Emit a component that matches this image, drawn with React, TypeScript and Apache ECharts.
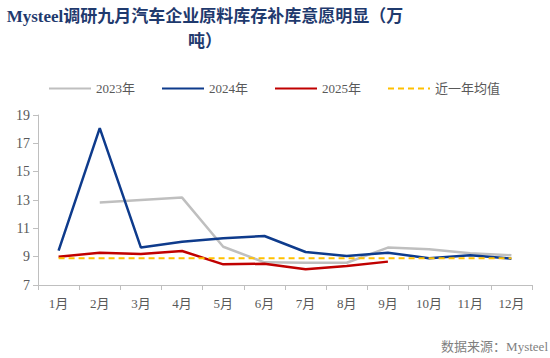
import React, { useEffect, useRef } from "react";
import * as echarts from "echarts";

const titleText = "Mysteel调研九月汽车企业原料库存补库意愿明显（万\n吨）";
const sourceText = "数据来源：Mysteel";
const months = ["1月", "2月", "3月", "4月", "5月", "6月", "7月", "8月", "9月", "10月", "11月", "12月"];
const s2023 = [null, 12.82, 13.0, 13.17, 9.7, 8.6, 8.57, 8.57, 9.64, 9.52, 9.24, 9.1];
const s2024 = [9.43, 18.08, 9.64, 10.06, 10.3, 10.46, 9.33, 9.05, 9.28, 8.89, 9.1, 8.86];
const s2025 = [9.0, 9.28, 9.19, 9.4, 8.46, 8.5, 8.11, 8.34, 8.65];
const avgValue = 8.89;
const avgSeries = months.map(() => avgValue);
const seriesNames = ["2023年", "2024年", "2025年", "近一年均值"];

const FONT = "'Liberation Serif', 'Noto Sans CJK SC', serif";

export default function App() {
  const ref = useRef<HTMLDivElement>(null);
  useEffect(() => {
    if (!ref.current) return;
    const chart = echarts.init(ref.current, null, { renderer: "svg" });
    chart.setOption({
      animation: false,
      backgroundColor: "#ffffff",
      textStyle: { fontFamily: FONT },
      graphic: [
        {
          type: "text",
          x: 205,
          y: 4,
          style: {
            text: titleText,
            textAlign: "center",
            fontSize: 17,
            lineHeight: 25,
            fontWeight: "bold",
            fontFamily: FONT,
            fill: "#1F3A6E",
          },
        },
        {
          type: "text",
          x: 548,
          y: 346,
          style: {
            text: sourceText,
            textAlign: "right",
            textVerticalAlign: "middle",
            fontSize: 13,
            fontFamily: FONT,
            fill: "#7F7F7F",
          },
        },
      ],
      legend: {
        left: 43,
        top: 77,
        itemWidth: 42,
        itemHeight: 14,
        itemGap: 26,
        itemStyle: { opacity: 0, borderWidth: 0 },
        textStyle: { fontSize: 13, color: "#595959", fontFamily: FONT },
        data: seriesNames,
      },
      grid: { left: 38, right: 18, top: 115, bottom: 73 },
      xAxis: {
        type: "category",
        data: months,
        boundaryGap: true,
        axisLine: { lineStyle: { color: "#BFBFBF", width: 1 } },
        axisTick: { show: true, length: 5, lineStyle: { color: "#BFBFBF" } },
        axisLabel: { color: "#595959", fontSize: 13, margin: 12, fontFamily: FONT },
        splitLine: { show: false },
      },
      yAxis: {
        type: "value",
        min: 7,
        max: 19,
        interval: 2,
        axisLine: { show: true, lineStyle: { color: "#BFBFBF", width: 1 } },
        axisTick: { show: true, length: 5, lineStyle: { color: "#BFBFBF" } },
        axisLabel: { color: "#595959", fontSize: 14, margin: 8, fontFamily: FONT },
        splitLine: { show: false },
      },
      series: [
        {
          name: seriesNames[0],
          type: "line",
          data: s2023,
          symbol: "none",
          lineStyle: { color: "#BFBFBF", width: 2.5 },
          itemStyle: { color: "#BFBFBF" },
        },
        {
          name: seriesNames[1],
          type: "line",
          data: s2024,
          symbol: "none",
          lineStyle: { color: "#0E3B8C", width: 2.5 },
          itemStyle: { color: "#0E3B8C" },
        },
        {
          name: seriesNames[2],
          type: "line",
          data: s2025,
          symbol: "none",
          lineStyle: { color: "#C00000", width: 2.5 },
          itemStyle: { color: "#C00000" },
        },
        {
          name: seriesNames[3],
          type: "line",
          data: avgSeries,
          symbol: "none",
          lineStyle: { color: "#FFC000", width: 2, type: [6, 4] },
          itemStyle: { color: "#FFC000" },
        },
      ],
    });
    return () => chart.dispose();
  }, []);
  return <div ref={ref} style={{ width: 550, height: 358, position: "absolute", left: 0, top: 0 }} />;
}
